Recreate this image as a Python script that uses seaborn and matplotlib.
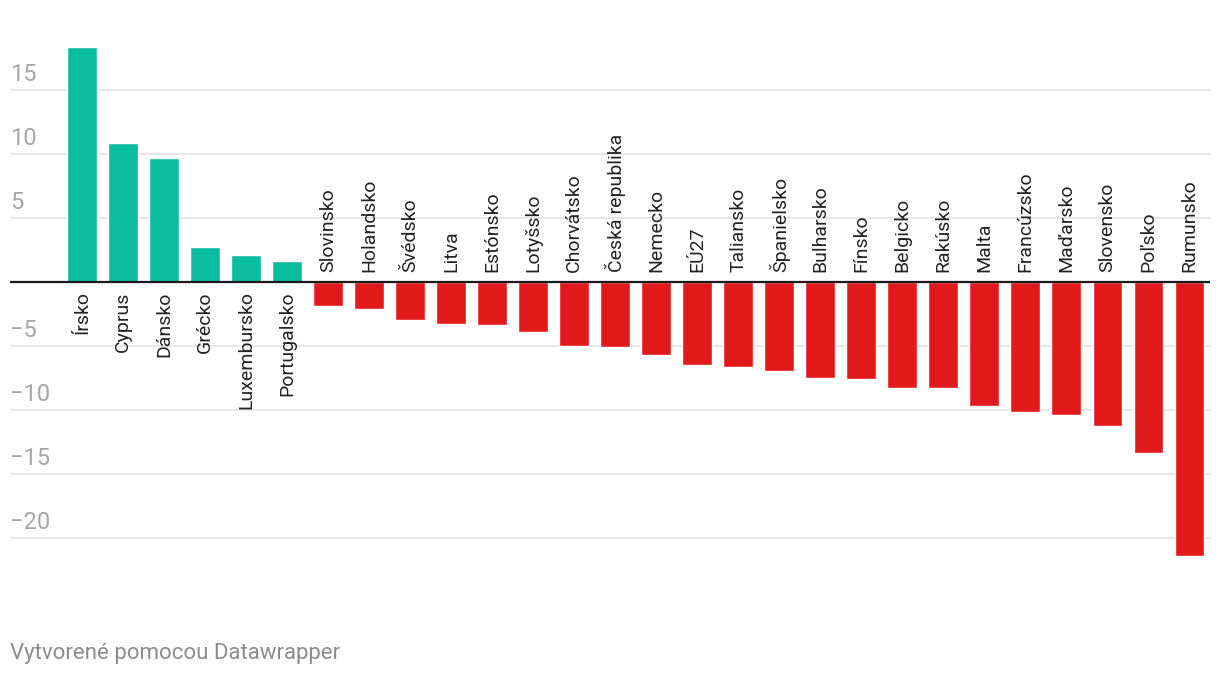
import matplotlib
matplotlib.use("Agg")
import matplotlib.pyplot as plt
import matplotlib.transforms as mtransforms
import seaborn as sns
import pandas as pd

countries = ["Írsko", "Cyprus", "Dánsko", "Grécko", "Luxembursko", "Portugalsko",
             "Slovinsko", "Holandsko", "Švédsko", "Litva", "Estónsko", "Lotyšsko",
             "Chorvátsko", "Česká republika", "Nemecko", "EÚ27", "Taliansko",
             "Španielsko", "Bulharsko", "Fínsko", "Belgicko", "Rakúsko", "Malta",
             "Francúzsko", "Maďarsko", "Slovensko", "Poľsko", "Rumunsko"]
values = [18.3, 10.8, 9.7, 2.7, 2.1, 1.6,
          -1.9, -2.1, -3.0, -3.3, -3.4, -3.9,
          -5.0, -5.1, -5.7, -6.5, -6.7, -7.0,
          -7.5, -7.6, -8.3, -8.3, -9.7, -10.2,
          -10.4, -11.3, -13.4, -21.4]
yticks = [15, 10, 5, -5, -10, -15, -20]
footer = "Vytvorené pomocou Datawrapper"

df = pd.DataFrame({"krajina": countries, "hodnota": values})
df["znamienko"] = ["plus" if v >= 0 else "minus" for v in values]

sns.set_style("white")
plt.rcParams["font.family"] = ["Roboto", "DejaVu Sans"]

fig = plt.figure(figsize=(12.2, 6.76), dpi=100)
ax = fig.add_axes([10 / 1220, 0.1288, 1200 / 1220, 0.8275])

sns.barplot(data=df, x="krajina", y="hodnota", hue="znamienko",
            palette={"plus": "#0abd9f", "minus": "#e31a1c"},
            order=countries, dodge=False, width=0.73, legend=False,
            saturation=1, ax=ax, zorder=3)

ax.set_xlim(-1.76, 27.5)
ax.set_ylim(-24, 19.7)

for t in yticks:
    ax.axhline(t, color="#e3e3e3", lw=1.2, zorder=1)
ax.axhline(0, color="#1a1a1a", lw=1.6, zorder=4)

off = mtransforms.offset_copy(ax.get_yaxis_transform(), fig=fig, x=0, y=6, units="points")
for t in yticks:
    ax.text(0, t, str(t).replace("-", "\u2212"), transform=off,
            ha="left", va="baseline", fontsize=17, color="#a6a6a6")

for i, (c, v) in enumerate(zip(countries, values)):
    if v >= 0:
        ax.annotate(c, (i, 0), xytext=(0, -7), textcoords="offset points",
                    rotation=90, ha="center", va="top", fontsize=14, color="#222222")
    else:
        ax.annotate(c, (i, 0), xytext=(0, 7), textcoords="offset points",
                    rotation=90, ha="center", va="bottom", fontsize=14, color="#222222")

ax.set_xticks([])
ax.set_yticks([])
ax.set_xlabel("")
ax.set_ylabel("")
sns.despine(ax=ax, left=True, bottom=True)

fig.text(10 / 1220, 0.025, footer, ha="left", va="baseline", fontsize=16, color="#8c8c8c")

fig.savefig("out.png", dpi=100)
